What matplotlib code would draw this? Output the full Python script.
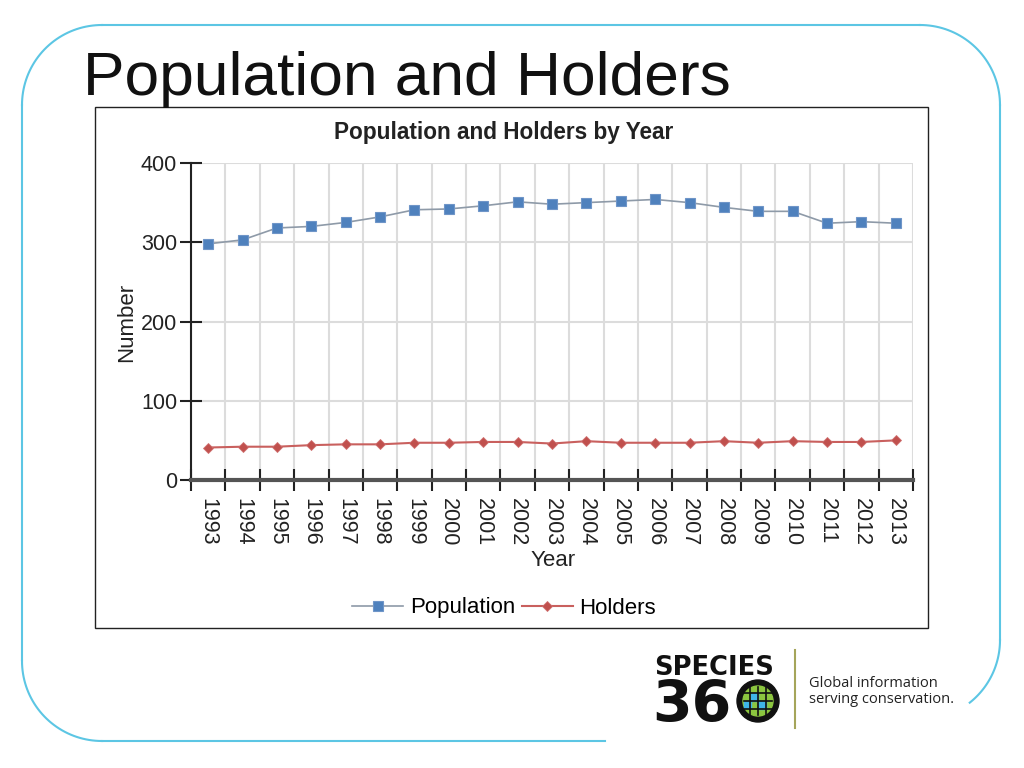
import numpy as np
import matplotlib
matplotlib.use("Agg")
import matplotlib.pyplot as plt
from matplotlib.patches import Rectangle, Circle

plt.rcParams['font.family'] = ['Liberation Sans', 'DejaVu Sans']

years = list(range(1993, 2014))
population = [298, 303, 318, 320, 325, 332, 341, 342, 346, 351, 348, 350, 352, 354, 350, 344, 339, 339, 324, 326, 324]
holders = [41, 42, 42, 44, 45, 45, 47, 47, 48, 48, 46, 49, 47, 47, 47, 49, 47, 49, 48, 48, 50]

W, H = 1024, 768
fig = plt.figure(figsize=(W / 100, H / 100), dpi=100)

# background layer in pixel coords (slide frame, logo)
bg = fig.add_axes([0, 0, 1, 1])
bg.set_xlim(0, W)
bg.set_ylim(H, 0)
bg.axis('off')

frame_col = '#5cc6e4'
r = 80
def arc(cx, cy, t0, t1):
    t = np.linspace(t0, t1, 40)
    bg.plot(cx + r * np.cos(t), cy + r * np.sin(t), color=frame_col, lw=1.5)

bg.plot([102, 920], [25, 25], color=frame_col, lw=1.5)
bg.plot([22, 22], [105, 660], color=frame_col, lw=1.5)
bg.plot([102, 605], [741, 741], color=frame_col, lw=1.5)
bg.plot([1000, 1000], [105, 640], color=frame_col, lw=1.5)
arc(102, 105, np.pi, 1.5 * np.pi)
arc(102, 661, 0.5 * np.pi, np.pi)
arc(920, 105, 1.5 * np.pi, 2 * np.pi)
arc(920, 640, 0, 0.9)

# chart image frame
bg.add_patch(Rectangle((95, 107), 833, 521, fill=False, ec='#222222', lw=1))

# slide title
fig.text(83 / W, 1 - 95 / H, "Population and Holders", fontsize=44.8, color='#111111',
         ha='left', va='baseline')

# logo
bg.text(654, 675, "SPECIES", fontsize=18.5, fontweight='bold', family='DejaVu Sans',
        color='#111111', ha='left', va='baseline')
bg.text(652, 722, "36", fontsize=41, fontweight='bold', family='DejaVu Sans',
        color='#111111', ha='left', va='baseline')
bg.add_patch(Circle((758, 701), 21, color='#111111'))
bg.add_patch(Circle((758, 701), 15, color='#8cc63f'))
for dx in (-8, 0, 8):
    bg.plot([758 + dx, 758 + dx], [687, 715], color='#111111', lw=1.2)
for dy in (-8, 0, 8):
    bg.plot([744, 772], [701 + dy, 701 + dy], color='#111111', lw=1.2)
bg.add_patch(Rectangle((751, 693), 7, 8, color='#3fb6e8'))
bg.add_patch(Rectangle((758, 701), 8, 8, color='#3fb6e8'))
bg.add_patch(Rectangle((744, 701), 7, 7, color='#3fb6e8'))
bg.plot([795, 795], [650, 728], color='#a5a55a', lw=1.5)
bg.text(809, 687, "Global information", fontsize=10.5, family='Open Sans',
        color='#222222', ha='left', va='baseline')
bg.text(809, 703, "serving conservation.", fontsize=10.5, family='Open Sans',
        color='#222222', ha='left', va='baseline')

# chart
ax = fig.add_axes([191 / W, 1 - 480 / H, 722 / W, 317 / H])
ax.plot(years, population, color='#8e9aa8', lw=1.2, marker='s', ms=7,
        mfc='#4f81bd', mec='#6f95c8', mew=0.8, label='Population', zorder=3)
ax.plot(years, holders, color='#c9605e', lw=1.5, marker='D', ms=5.5,
        mfc='#c0504d', mec='#d07070', mew=0.6, label='Holders', zorder=3)

ax.set_xlim(1992.5, 2013.5)
ax.set_ylim(0, 400)
ax.set_yticks([0, 100, 200, 300, 400])
ax.set_xticks(years)
ax.set_xticklabels([str(y) for y in years], rotation=-90)
ax.set_xticks(np.arange(1992.5, 2014, 1), minor=True)

ax.tick_params(axis='x', which='major', length=0, pad=13, labelsize=15.5, labelcolor='#222222')
ax.tick_params(axis='x', which='minor', direction='inout', length=16, width=1.5, color='#222222')
ax.tick_params(axis='y', which='major', direction='inout', length=16, width=1.5,
               color='#222222', pad=2, labelsize=15.5, labelcolor='#222222')

ax.grid(axis='y', which='major', color='#dcdcdc', lw=1.5)
ax.grid(axis='x', which='minor', color='#dcdcdc', lw=1.5)
ax.set_axisbelow(True)
for s in ('top', 'right'):
    ax.spines[s].set_visible(False)
ax.spines['left'].set_color('#222222')
ax.spines['left'].set_linewidth(1.5)
ax.spines['bottom'].set_color('#555555')
ax.spines['bottom'].set_linewidth(3)

fig.text(504 / W, 1 - 132 / H, "Population and Holders by Year", fontsize=16.3,
         fontweight='bold', color='#222222', ha='center', va='center')
fig.text(553 / W, 1 - 561 / H, "Year", fontsize=16, color='#222222', ha='center', va='center')
fig.text(127 / W, 1 - 322 / H, "Number", fontsize=16, color='#222222', ha='center',
         va='center', rotation=90)

fig.legend(loc='center', bbox_to_anchor=(504 / W, 1 - 608 / H), ncol=2, frameon=False,
           fontsize=16, handlelength=2.3, columnspacing=0.3, handletextpad=0.3)

fig.savefig('out.png', dpi=100)
